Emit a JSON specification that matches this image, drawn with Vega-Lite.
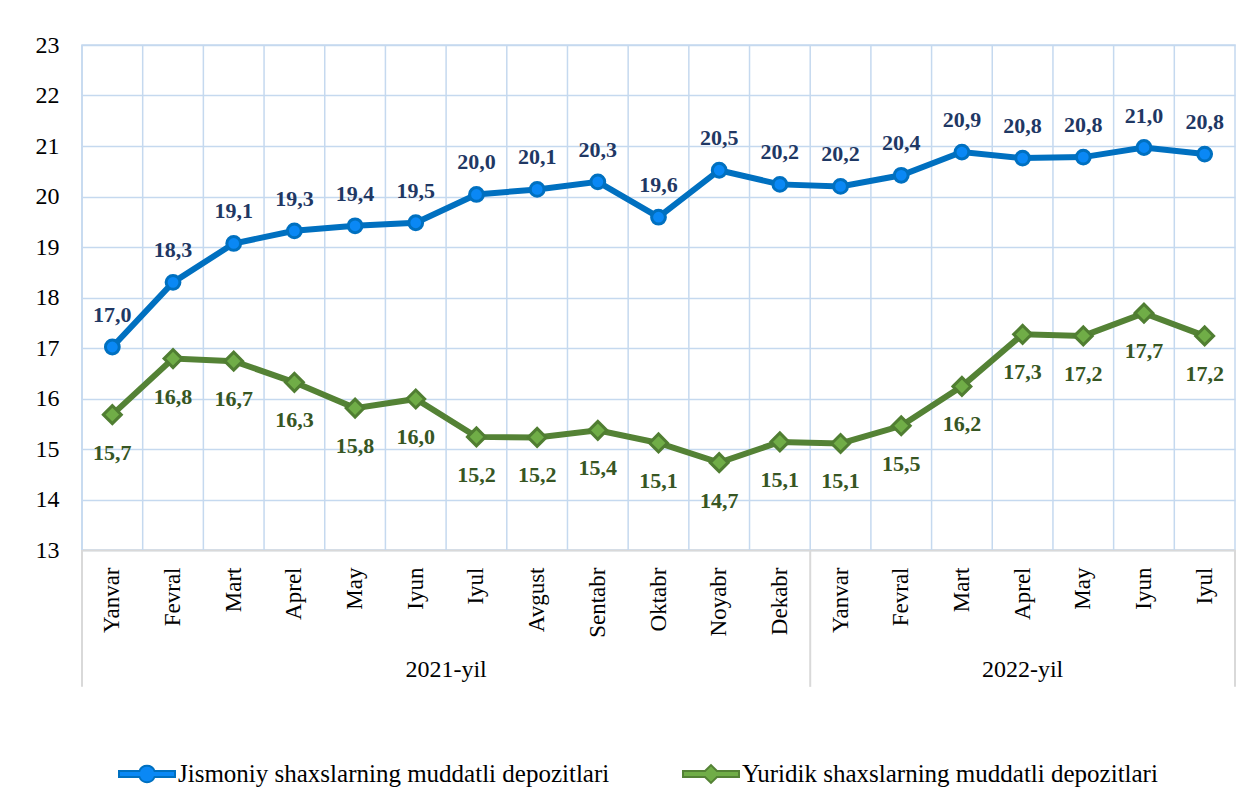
{
  "$schema": "https://vega.github.io/schema/vega-lite/v6.json",
  "width": 1153,
  "height": 505,
  "autosize": {"type": "none"},
  "padding": {"left": 82, "top": 45, "right": 22, "bottom": 255},
  "background": "white",
  "config": {
    "view": {"stroke": "#C5D9EF", "strokeWidth": 1.5},
    "locale": {"number": {"decimal": ",", "thousands": " ", "grouping": [3], "currency": ["", ""]}},
    "font": "Times New Roman, Liberation Serif, DejaVu Serif, serif",
    "axisX": {"labelFontSize": 23, "labelFont": "Times New Roman, Liberation Serif, DejaVu Serif, serif", "labelColor": "#000000"},
    "axisY": {"labelFontSize": 24, "labelFont": "Times New Roman, Liberation Serif, DejaVu Serif, serif", "labelColor": "#000000"}
  },
  "data": {
    "values": [
      {"k": "Yanvar|2021", "Jismoniy shaxslarning muddatli depozitlari": 17.02, "Yuridik shaxslarning muddatli depozitlari": 15.68},
      {"k": "Fevral|2021", "Jismoniy shaxslarning muddatli depozitlari": 18.3, "Yuridik shaxslarning muddatli depozitlari": 16.79},
      {"k": "Mart|2021", "Jismoniy shaxslarning muddatli depozitlari": 19.07, "Yuridik shaxslarning muddatli depozitlari": 16.74},
      {"k": "Aprel|2021", "Jismoniy shaxslarning muddatli depozitlari": 19.32, "Yuridik shaxslarning muddatli depozitlari": 16.32},
      {"k": "May|2021", "Jismoniy shaxslarning muddatli depozitlari": 19.42, "Yuridik shaxslarning muddatli depozitlari": 15.81},
      {"k": "Iyun|2021", "Jismoniy shaxslarning muddatli depozitlari": 19.48, "Yuridik shaxslarning muddatli depozitlari": 15.99},
      {"k": "Iyul|2021", "Jismoniy shaxslarning muddatli depozitlari": 20.04, "Yuridik shaxslarning muddatli depozitlari": 15.24},
      {"k": "Avgust|2021", "Jismoniy shaxslarning muddatli depozitlari": 20.14, "Yuridik shaxslarning muddatli depozitlari": 15.23},
      {"k": "Sentabr|2021", "Jismoniy shaxslarning muddatli depozitlari": 20.29, "Yuridik shaxslarning muddatli depozitlari": 15.37},
      {"k": "Oktabr|2021", "Jismoniy shaxslarning muddatli depozitlari": 19.59, "Yuridik shaxslarning muddatli depozitlari": 15.12},
      {"k": "Noyabr|2021", "Jismoniy shaxslarning muddatli depozitlari": 20.52, "Yuridik shaxslarning muddatli depozitlari": 14.73},
      {"k": "Dekabr|2021", "Jismoniy shaxslarning muddatli depozitlari": 20.24, "Yuridik shaxslarning muddatli depozitlari": 15.14},
      {"k": "Yanvar|2022", "Jismoniy shaxslarning muddatli depozitlari": 20.2, "Yuridik shaxslarning muddatli depozitlari": 15.11},
      {"k": "Fevral|2022", "Jismoniy shaxslarning muddatli depozitlari": 20.42, "Yuridik shaxslarning muddatli depozitlari": 15.46},
      {"k": "Mart|2022", "Jismoniy shaxslarning muddatli depozitlari": 20.88, "Yuridik shaxslarning muddatli depozitlari": 16.24},
      {"k": "Aprel|2022", "Jismoniy shaxslarning muddatli depozitlari": 20.76, "Yuridik shaxslarning muddatli depozitlari": 17.27},
      {"k": "May|2022", "Jismoniy shaxslarning muddatli depozitlari": 20.78, "Yuridik shaxslarning muddatli depozitlari": 17.24},
      {"k": "Iyun|2022", "Jismoniy shaxslarning muddatli depozitlari": 20.97, "Yuridik shaxslarning muddatli depozitlari": 17.69},
      {"k": "Iyul|2022", "Jismoniy shaxslarning muddatli depozitlari": 20.84, "Yuridik shaxslarning muddatli depozitlari": 17.24}
    ]
  },
  "transform": [
    {"fold": ["Jismoniy shaxslarning muddatli depozitlari", "Yuridik shaxslarning muddatli depozitlari"], "as": ["series", "v"]}
  ],
  "encoding": {
    "x": {
      "field": "k",
      "type": "nominal",
      "scale": {
        "type": "band",
        "paddingInner": 0,
        "paddingOuter": 0,
        "domain": ["Yanvar|2021", "Fevral|2021", "Mart|2021", "Aprel|2021", "May|2021", "Iyun|2021", "Iyul|2021", "Avgust|2021", "Sentabr|2021", "Oktabr|2021", "Noyabr|2021", "Dekabr|2021", "Yanvar|2022", "Fevral|2022", "Mart|2022", "Aprel|2022", "May|2022", "Iyun|2022", "Iyul|2022"]
      },
      "axis": {
        "title": null,
        "labelExpr": "split(datum.value, '|')[0]",
        "labelAngle": -90,
        "labelAlign": "right",
        "labelBaseline": "middle",
        "labelFont": "Times New Roman, Liberation Serif, DejaVu Serif, serif",
        "labelFontSize": 23,
        "labelColor": "#000000",
        "labelPadding": 17,
        "ticks": false,
        "grid": false,
        "domainColor": "#D9D9D9",
        "domainWidth": 2
      }
    },
    "y": {
      "field": "v",
      "type": "quantitative",
      "scale": {"domain": [13, 23], "nice": false, "zero": false},
      "axis": {
        "title": null,
        "values": [13, 14, 15, 16, 17, 18, 19, 20, 21, 22, 23],
        "labelFont": "Times New Roman, Liberation Serif, DejaVu Serif, serif",
        "labelFontSize": 24,
        "labelColor": "#000000",
        "labelPadding": 23,
        "ticks": false,
        "domain": false,
        "grid": true,
        "gridColor": "#C5D9EF",
        "gridWidth": 1.5
      }
    }
  },
  "layer": [
    {
      "transform": [{"filter": "datum.series === 'Jismoniy shaxslarning muddatli depozitlari'"}],
      "mark": {"type": "rule", "color": "#C5D9EF", "strokeWidth": 1.5},
      "encoding": {
        "x": {"field": "k", "type": "nominal", "bandPosition": 0},
        "y": {"datum": 13, "type": "quantitative"},
        "y2": {"datum": 23}
      }
    },
    {
      "transform": [{"filter": "datum.series === 'Jismoniy shaxslarning muddatli depozitlari' && (datum.k === 'Yanvar|2021' || datum.k === 'Yanvar|2022')"}],
      "mark": {"type": "rule", "color": "#D9D9D9", "strokeWidth": 2},
      "encoding": {
        "x": {"field": "k", "type": "nominal", "bandPosition": 0},
        "y": {"datum": 13, "type": "quantitative"},
        "y2": {"datum": 10.29}
      }
    },
    {
      "transform": [{"filter": "datum.series === 'Jismoniy shaxslarning muddatli depozitlari' && datum.k === 'Iyul|2022'"}],
      "mark": {"type": "rule", "color": "#D9D9D9", "strokeWidth": 2},
      "encoding": {
        "x": {"field": "k", "type": "nominal", "bandPosition": 1},
        "y": {"datum": 13, "type": "quantitative"},
        "y2": {"datum": 10.29}
      }
    },
    {
      "transform": [{"filter": "datum.series === 'Jismoniy shaxslarning muddatli depozitlari' && datum.k === 'Iyul|2021'"}],
      "mark": {"type": "text", "fontSize": 24, "color": "#000000", "baseline": "middle", "align": "center"},
      "encoding": {
        "x": {"field": "k", "type": "nominal", "bandPosition": 0},
        "y": {"datum": 10.62, "type": "quantitative"},
        "text": {"value": "2021-yil"}
      }
    },
    {
      "transform": [{"filter": "datum.series === 'Jismoniy shaxslarning muddatli depozitlari' && datum.k === 'Aprel|2022'"}],
      "mark": {"type": "text", "fontSize": 24, "color": "#000000", "baseline": "middle", "align": "center"},
      "encoding": {
        "x": {"field": "k", "type": "nominal", "bandPosition": 0.5},
        "y": {"datum": 10.62, "type": "quantitative"},
        "text": {"value": "2022-yil"}
      }
    },
    {
      "mark": {"type": "line", "strokeWidth": 6},
      "encoding": {
        "x": {"field": "k", "type": "nominal", "bandPosition": 0.5},
        "color": {
          "field": "series",
          "type": "nominal",
          "scale": {"domain": ["Jismoniy shaxslarning muddatli depozitlari", "Yuridik shaxslarning muddatli depozitlari"], "range": ["#0070C0", "#548235"]},
          "legend": {
            "title": null,
            "orient": "none",
            "direction": "horizontal",
            "legendX": 36,
            "legendY": 700,
            "symbolSize": 3136,
            "labelFont": "Times New Roman, Liberation Serif, DejaVu Serif, serif",
            "labelFontSize": 25,
            "labelColor": "#000000",
            "labelLimit": 700,
            "labelOffset": 2,
            "columnPadding": 69,
            "encode": {
              "symbols": {
                "update": {
                  "shape": {"signal": "datum.value === 'Jismoniy shaxslarning muddatli depozitlari' ? 'M-1,-0.107H-0.27A0.29,0.29 0 0,1 0.27,-0.107H1V0.107H0.27A0.29,0.29 0 0,1 -0.27,0.107H-1Z' : 'M-1,-0.107H-0.213L0,-0.32L0.213,-0.107H1V0.107H0.213L0,0.32L-0.213,0.107H-1Z'"},
                  "fill": {"signal": "datum.value === 'Jismoniy shaxslarning muddatli depozitlari' ? '#0A88F5' : '#70AD47'"},
                  "stroke": {"signal": "datum.value === 'Jismoniy shaxslarning muddatli depozitlari' ? '#0070C0' : '#548235'"},
                  "strokeWidth": {"value": 2},
                  "opacity": {"value": 1},
                  "fillOpacity": {"value": 1}
                }
              }
            }
          }
        }
      }
    },
    {
      "transform": [{"filter": "datum.series === 'Jismoniy shaxslarning muddatli depozitlari'"}],
      "mark": {"type": "point", "shape": "circle", "filled": true, "fill": "#0A88F5", "stroke": "#0070C0", "strokeWidth": 3, "size": 190, "opacity": 1},
      "encoding": {
        "x": {"field": "k", "type": "nominal", "bandPosition": 0.5}
      }
    },
    {
      "transform": [{"filter": "datum.series === 'Yuridik shaxslarning muddatli depozitlari'"}],
      "mark": {"type": "point", "shape": "diamond", "filled": true, "fill": "#70AD47", "stroke": "#507E32", "strokeWidth": 3, "size": 320, "opacity": 1},
      "encoding": {
        "x": {"field": "k", "type": "nominal", "bandPosition": 0.5}
      }
    },
    {
      "transform": [{"filter": "datum.series === 'Jismoniy shaxslarning muddatli depozitlari'"}],
      "mark": {"type": "text", "fontSize": 22, "fontWeight": "bold", "color": "#1F3864", "dy": -32, "baseline": "middle"},
      "encoding": {
        "x": {"field": "k", "type": "nominal", "bandPosition": 0.5},
        "text": {"field": "v", "type": "quantitative", "format": ".1f"}
      }
    },
    {
      "transform": [{"filter": "datum.series === 'Yuridik shaxslarning muddatli depozitlari'"}],
      "mark": {"type": "text", "fontSize": 22, "fontWeight": "bold", "color": "#375623", "dy": 38, "baseline": "middle"},
      "encoding": {
        "x": {"field": "k", "type": "nominal", "bandPosition": 0.5},
        "text": {"field": "v", "type": "quantitative", "format": ".1f"}
      }
    }
  ]
}
